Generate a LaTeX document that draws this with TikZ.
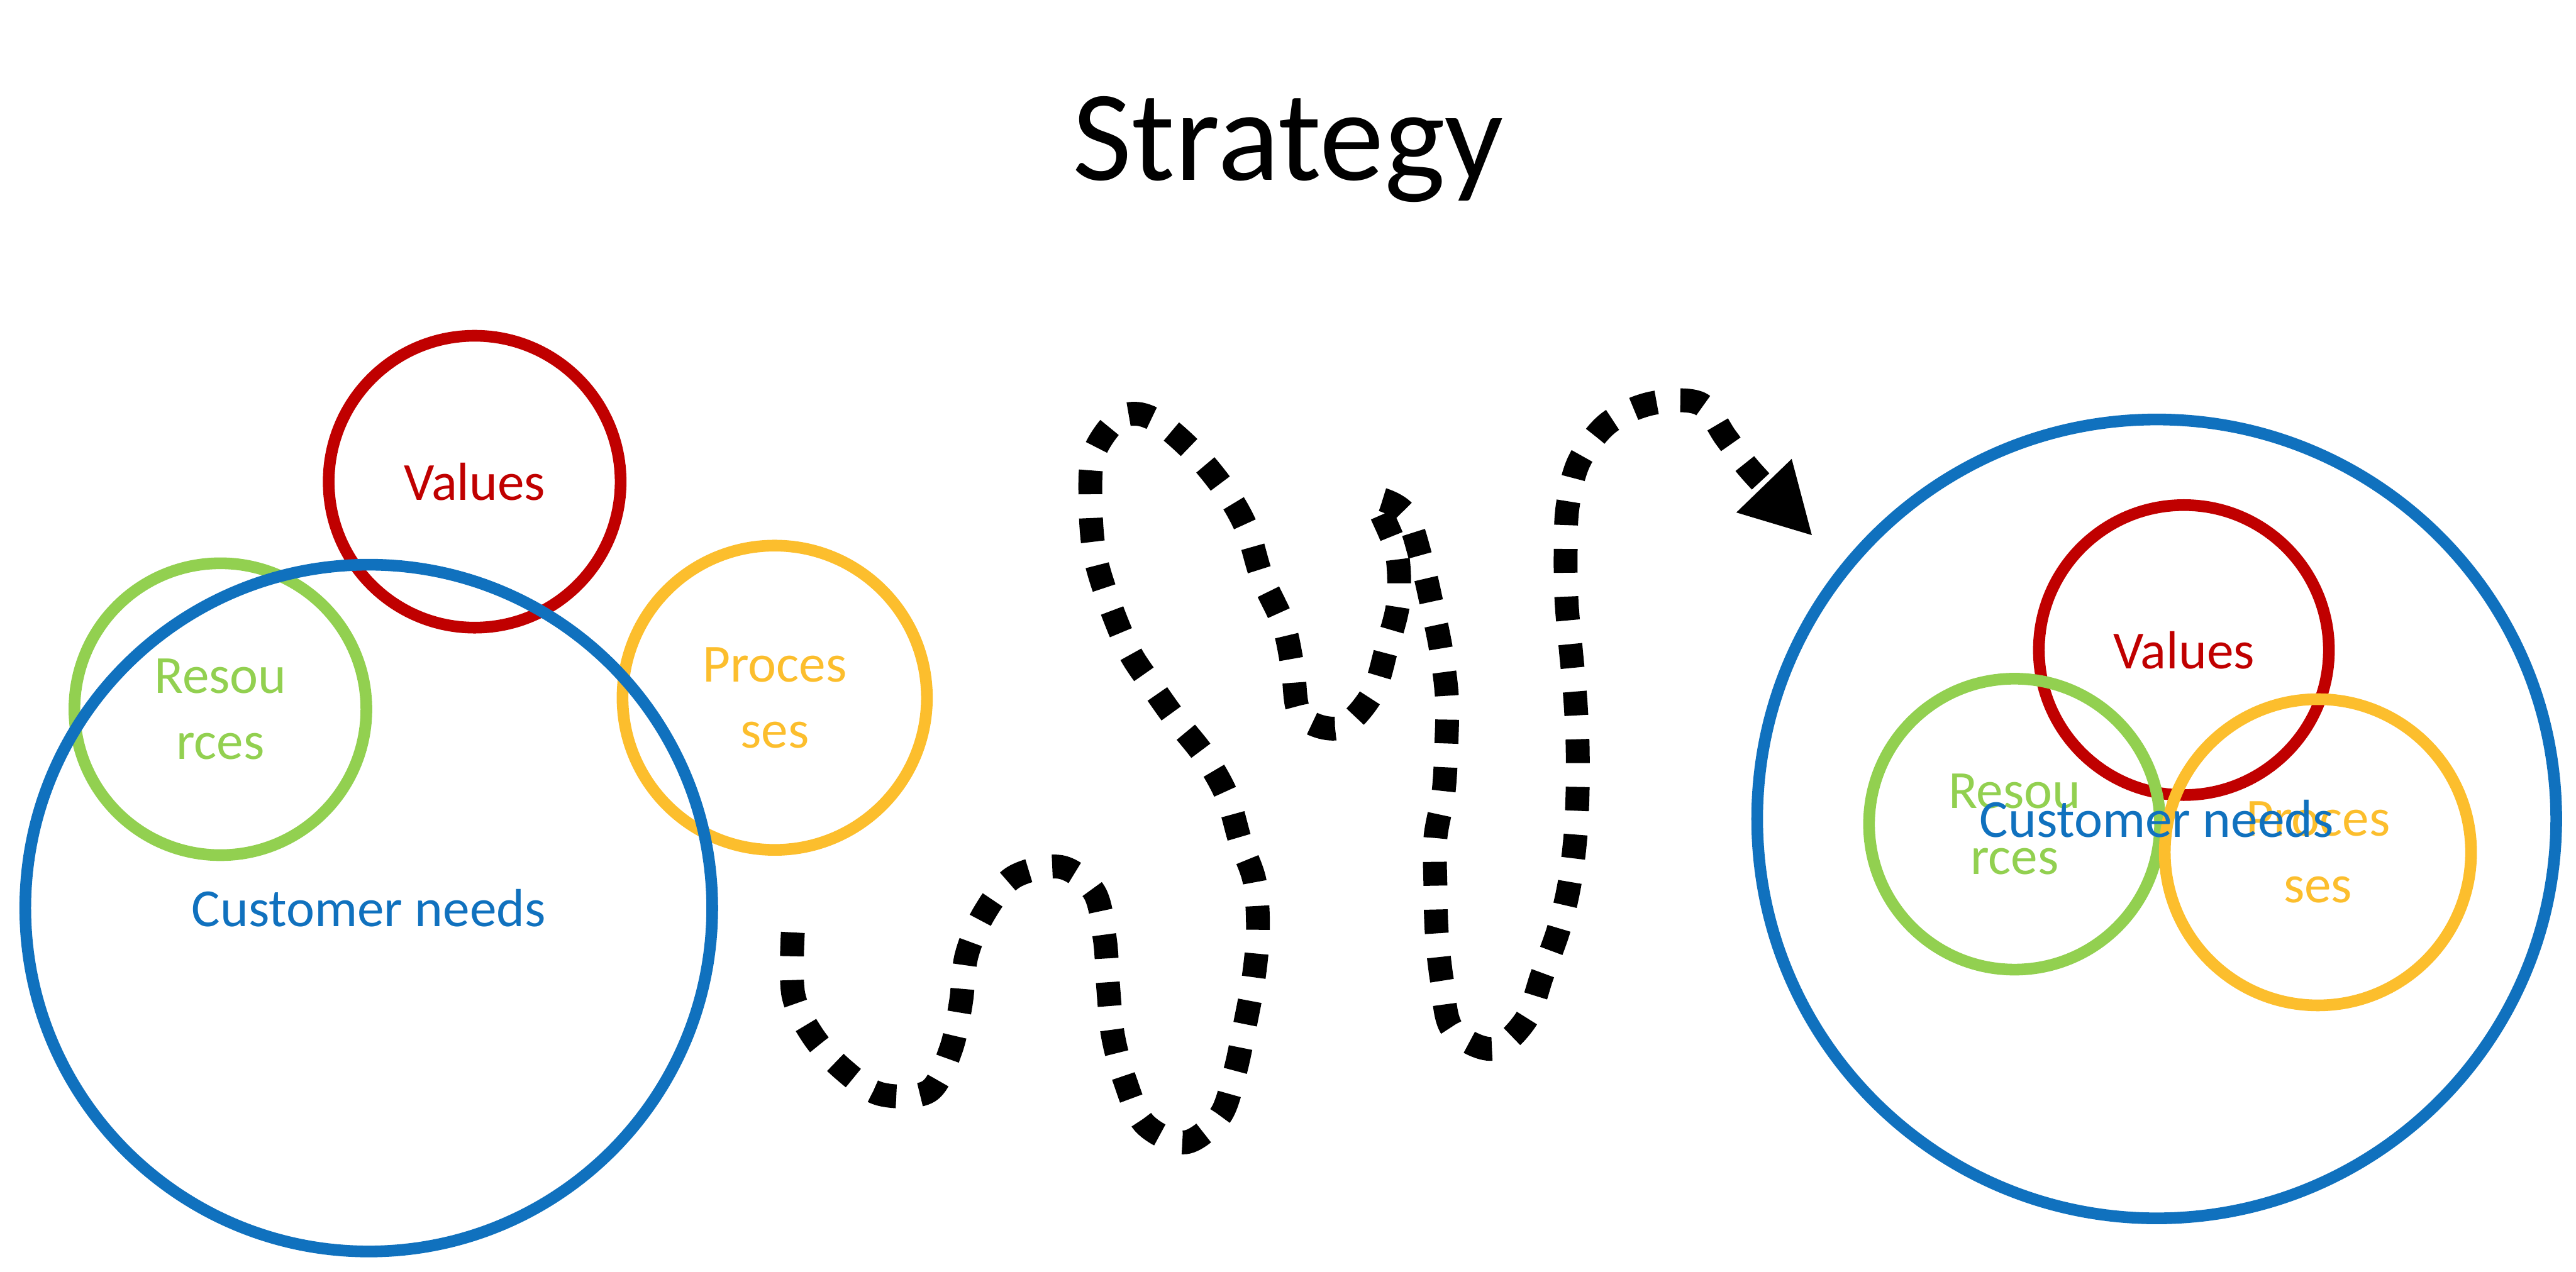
\documentclass[tikz,border=0pt]{standalone}
\usepackage{fontspec}
\setmainfont{Carlito}
\usepackage{tikz}
\usetikzlibrary{arrows.meta}
\definecolor{valred}{RGB}{192,0,0}
\definecolor{resgreen}{RGB}{146,208,80}
\definecolor{procgold}{RGB}{252,190,45}
\definecolor{custblue}{RGB}{16,113,190}

\begin{document}
\begin{tikzpicture}[x=1cm, y=-1cm,
  ring/.style={circle, line width=0.245cm, inner sep=0pt, align=center,
    font=\fontsize{32}{39.5}\selectfont},
  wiggle/.style={line width=0.5cm, dash pattern=on 0.5cm off 0.5cm,
    -{Triangle[length=1.47cm, width=1.5cm]}}]
\useasboundingbox (0,0) rectangle (54,26.67);
\node[font=\fontsize{77}{92}\selectfont, anchor=base] (title) at (27.00,3.78) {Strategy};

\node[ring, draw=resgreen, text=resgreen, minimum size=6.12cm] (res1) at (4.62,14.87) {Resou\\rces};
\node[ring, draw=valred, text=valred, minimum size=6.12cm] (val1) at (9.95,10.10) {Values};
\node[ring, draw=procgold, text=procgold, minimum size=6.38cm] (proc1) at (16.24,14.63) {Proces\\ses};
\node[ring, draw=custblue, text=custblue, minimum size=14.40cm] (cust1) at (7.73,19.04) {Customer needs};

\node[ring, draw=valred, text=valred, minimum size=6.08cm] (val2) at (45.78,13.63) {Values};
\node[ring, draw=resgreen, text=resgreen, minimum size=6.10cm] (res2) at (42.23,17.28) {Resou\\rces};
\node[ring, draw=procgold, text=procgold, minimum size=6.42cm] (proc2) at (48.59,17.87) {Proces\\ses};
\node[ring, draw=custblue, text=custblue, minimum size=16.75cm] (cust2) at (45.21,17.17) {Customer needs};

\coordinate (start) at (16.62,19.55);
\coordinate (tip) at (38.00,11.24);
\draw[wiggle] plot[smooth, tension=0.55] coordinates {(start) (16.63,20.85) (17.04,21.72)
  (17.67,22.42) (18.46,22.94) (19.47,22.88) (19.93,22.01) (20.14,21.04) (20.26,20.04)
  (20.63,19.15) (21.25,18.39) (22.24,18.18) (22.94,18.71) (23.16,19.69) (23.23,20.69)
  (23.33,21.71) (23.58,22.65) (24.00,23.57) (24.85,23.95) (25.58,23.39) (25.89,22.47)
  (26.10,21.48) (26.28,20.50) (26.37,19.50) (26.30,18.48) (26.00,17.64) (25.72,16.69)
  (25.25,15.85) (24.64,15.08) (24.07,14.27) (23.65,13.61) (23.21,12.52) (22.94,11.58)
  (22.86,10.55) (22.92,9.54) (23.40,8.81) (23.86,8.68) (24.38,8.91) (25.10,9.56)
  (25.73,10.35) (26.15,11.12) (26.45,12.10) (26.90,13.08) (27.10,14.00) (27.27,15.00)
  (28.08,15.26) (28.76,14.56) (29.07,13.58) (29.31,12.63) (29.28,11.59) (28.93,10.70)
  (28.88,10.45) (29.46,10.77) (29.79,11.72) (30.02,12.70) (30.21,13.64) (30.33,14.61)
  (30.32,15.60) (30.26,16.62) (30.09,17.57) (30.09,18.59) (30.12,19.59) (30.23,20.58)
  (30.44,21.57) (31.28,21.99) (31.98,21.39) (32.33,20.44) (32.67,19.50) (32.89,18.59)
  (33.02,17.60) (33.07,16.61) (33.07,15.60) (33.02,14.62) (32.93,13.64) (32.84,12.63)
  (32.82,11.63) (32.86,10.63) (33.10,9.68) (33.70,8.88) (34.61,8.46) (35.63,8.46)
  (36.19,9.19) (36.72,9.89) (tip)};
\end{tikzpicture}
\end{document}
